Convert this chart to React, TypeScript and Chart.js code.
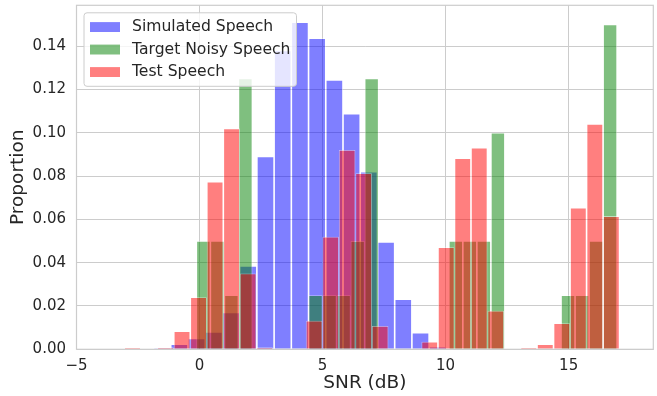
import React, { useEffect, useRef } from 'react';
import { Chart, registerables } from 'chart.js';

Chart.register(...registerables);

// ---- axes ----
const xTickValues = [-5, 0, 5, 10, 15];
const xTickLabels = ['\u22125', '0', '5', '10', '15'];
const yTickValues = [0, 0.02, 0.04, 0.06, 0.08, 0.1, 0.12, 0.14];
const yTickLabels = ['0.00', '0.02', '0.04', '0.06', '0.08', '0.10', '0.12', '0.14'];
const xRange = [-5, 18.44];
const yRange = [0, 0.1588];

// ---- series (histogram bins: first bin edge, bin width, proportions) ----
const seriesLabels = ['Simulated Speech', 'Target Noisy Speech', 'Test Speech'];

const simulatedBinStart = -1.87;
const simulatedBinWidth = 0.7;
const simulatedValues = [
  0.0006, 0.0024, 0.005, 0.008, 0.017, 0.0385, 0.089, 0.138, 0.151, 0.1436,
  0.1243, 0.1088, 0.082, 0.0495, 0.0231, 0.0077, 0.0012,
];

const targetBinStart = -0.13;
const targetBinWidth = 0.57;
const targetValues = [
  0.05, 0.05, 0.025, 0.125, 0, 0, 0, 0, 0.025, 0.025,
  0.025, 0.05, 0.125, 0, 0, 0, 0, 0, 0.05, 0.05,
  0.05, 0.1, 0, 0, 0, 0, 0.025, 0.025, 0.05, 0.15,
];

const testBinStart = -3.06;
const testBinWidth = 0.671;
const testValues = [
  0.001, 0, 0.001, 0.0083, 0.024, 0.0774, 0.102, 0.035, 0.001, 0,
  0, 0.0132, 0.052, 0.092, 0.0813, 0.0108, 0, 0, 0.0035, 0.0471,
  0.0882, 0.0931, 0.0178, 0, 0.001, 0.0023, 0.012, 0.0654, 0.104, 0.0615,
];

const seriesColors = ['rgba(0,0,255,0.5)', 'rgba(0,128,0,0.5)', 'rgba(255,0,0,0.5)'];

const FONT = '"DejaVu Sans", sans-serif';
const TEXT = '#262626';
const GRID = '#cccccc';

const toBins = (start: number, width: number, values: number[]) =>
  values.map((v, i) => ({ x: start + width * (i + 0.5), y: v }));

const framePlugin = {
  id: 'frame',
  afterDatasetsDraw(chart: any) {
    const { ctx, chartArea: a } = chart;
    ctx.save();
    ctx.strokeStyle = GRID;
    ctx.lineWidth = 1.2;
    ctx.strokeRect(a.left, a.top, a.right - a.left, a.bottom - a.top);
    ctx.restore();
  },
};

const legendPlugin = {
  id: 'boxLegend',
  afterDatasetsDraw(chart: any) {
    const { ctx, chartArea: a } = chart;
    const fs = 15;
    const textFs = 15.6;
    ctx.save();
    ctx.font = `${textFs}px ${FONT}`;
    const ds = chart.data.datasets;
    const textW = Math.max(...ds.map((d: any) => ctx.measureText(d.label).width));
    const left = a.left + 0.5 * fs;
    const top = a.top + 0.5 * fs;
    const pad = 0.4 * fs;
    const handle = 2 * fs;
    const gap = 0.8 * fs;
    const rowStep = 1.5 * fs;
    const w = pad + handle + gap + textW + pad;
    const h = 2 * pad + (ds.length - 1) * rowStep + 1.1 * fs;
    ctx.beginPath();
    if ((ctx as any).roundRect) (ctx as any).roundRect(left, top, w, h, 3);
    else ctx.rect(left, top, w, h);
    ctx.fillStyle = 'rgba(255,255,255,0.8)';
    ctx.fill();
    ctx.strokeStyle = GRID;
    ctx.lineWidth = 1;
    ctx.stroke();
    ds.forEach((d: any, i: number) => {
      const cy = top + pad + 0.55 * fs + i * rowStep;
      ctx.fillStyle = d.backgroundColor;
      ctx.fillRect(left + pad, cy - 0.33 * fs, handle, 0.66 * fs);
      ctx.fillStyle = TEXT;
      ctx.textBaseline = 'middle';
      ctx.textAlign = 'left';
      ctx.fillText(d.label, left + pad + handle + gap, cy);
    });
    ctx.restore();
  },
};

const setXTicks = (s: any) => {
  s.ticks = xTickValues.map((v) => ({ value: v }));
};

const hiddenX = {
  type: 'linear' as const,
  display: false,
  min: xRange[0],
  max: xRange[1],
  offset: false,
  grid: { offset: false },
  afterBuildTicks: setXTicks,
};

export default function App() {
  const ref = useRef<HTMLCanvasElement>(null);

  useEffect(() => {
    if (!ref.current) return;
    const common = {
      barPercentage: 1,
      categoryPercentage: 1,
      grouped: false,
      borderColor: 'rgba(255,255,255,0.5)',
      borderWidth: 0.8,
      borderSkipped: 'start',
      inflateAmount: 0,
    };
    const chart = new Chart(ref.current, {
      type: 'bar',
      data: {
        datasets: [
          {
            ...common,
            label: seriesLabels[0],
            data: toBins(simulatedBinStart, simulatedBinWidth, simulatedValues),
            backgroundColor: seriesColors[0],
            xAxisID: 'x',
            order: 3,
          },
          {
            ...common,
            label: seriesLabels[1],
            data: toBins(targetBinStart, targetBinWidth, targetValues),
            backgroundColor: seriesColors[1],
            xAxisID: 'x2',
            order: 2,
          },
          {
            ...common,
            label: seriesLabels[2],
            data: toBins(testBinStart, testBinWidth, testValues),
            backgroundColor: seriesColors[2],
            xAxisID: 'x3',
            order: 1,
          },
        ] as any,
      },
      options: {
        responsive: false,
        animation: false,
        devicePixelRatio: 1,
        layout: { padding: { left: 0, right: 3.7, top: 5.3, bottom: 0 } },
        plugins: {
          legend: { display: false },
          tooltip: { enabled: false },
        },
        scales: {
          x: {
            type: 'linear',
            min: xRange[0],
            max: xRange[1],
            offset: false,
            afterBuildTicks: setXTicks,
            afterFit: (s: any) => {
              s.height = 46.7;
              s.paddingLeft = 0;
              s.paddingRight = 0;
            },
            grid: { color: GRID, lineWidth: 1, drawTicks: false, offset: false },
            border: { display: false },
            ticks: {
              autoSkip: false,
              maxRotation: 0,
              padding: 7.5,
              color: TEXT,
              font: { family: FONT, size: 15 },
              callback: (_v: any, i: number) => xTickLabels[i],
            },
            title: {
              display: true,
              text: 'SNR (dB)',
              color: TEXT,
              font: { family: FONT, size: 18.5 },
              padding: { top: 0, bottom: 1.4 },
            },
          },
          x2: hiddenX,
          x3: hiddenX,
          y: {
            type: 'linear',
            min: yRange[0],
            max: yRange[1],
            afterBuildTicks: (s: any) => {
              s.ticks = yTickValues.map((v) => ({ value: v }));
            },
            afterFit: (s: any) => {
              s.width = 76.5;
              s.paddingTop = 0;
              s.paddingBottom = 0;
            },
            grid: { color: GRID, lineWidth: 1, drawTicks: false },
            border: { display: false },
            ticks: {
              padding: 10.5,
              color: TEXT,
              font: { family: FONT, size: 15 },
              callback: (_v: any, i: number) => yTickLabels[i],
            },
            title: {
              display: true,
              text: 'Proportion',
              color: TEXT,
              font: { family: FONT, size: 18.5 },
              padding: { top: 6.6, bottom: 0 },
            },
          },
        } as any,
      },
      plugins: [framePlugin, legendPlugin],
    });
    return () => chart.destroy();
  }, []);

  return (
    <div style={{ position: 'absolute', left: 0, top: 0, width: 657, height: 396, background: '#fff' }}>
      <canvas ref={ref} width={657} height={396} style={{ display: 'block' }} />
    </div>
  );
}
